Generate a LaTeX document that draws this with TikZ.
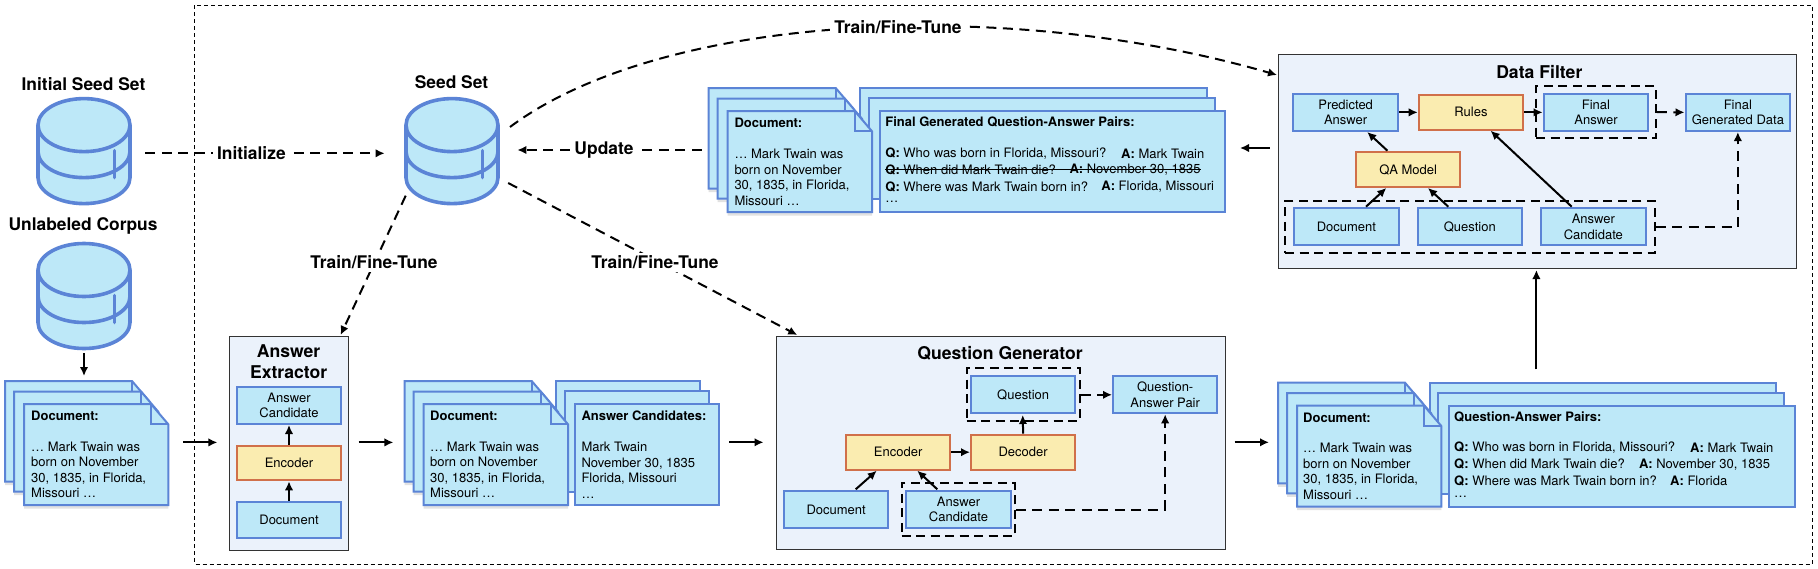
\documentclass[tikz,border=0pt]{standalone}
\usepackage{fontspec}
\setmainfont{TeX Gyre Heros}
\usetikzlibrary{arrows.meta}
\definecolor{boxblue}{HTML}{BDE8F8}
\definecolor{edgeblue}{HTML}{5B84D6}
\definecolor{boxyel}{HTML}{FAECB0}
\definecolor{edgeor}{HTML}{D0704A}
\definecolor{panelbg}{HTML}{EBF2FB}
\definecolor{shadowg}{HTML}{E2E2E2}
\newcommand{\DocPage}[6]{% left, top, right, bottom, foldx, foldy
  \fill[shadowg] (#1,#2+3)--(#5,#2+3)--(#3,#6+3)--(#3,#4+3.5)--(#1,#4+3.5)--cycle;
  \filldraw[page] (#1,#2)--(#5,#2)--(#3,#6)--(#3,#4)--(#1,#4)--cycle;
  \draw[page,fill=none] (#5,#2)--(#5,#6)--(#3,#6);
}
\newcommand{\DocStack}[2]{% left, top
  \begin{scope}[shift={(#1,#2)}]
  \DocPage{-19}{-23}{125.3}{77.7}{108}{-2.7}
  \DocPage{-10}{-12.5}{134.3}{87.7}{117}{7.8}
  \DocPage{0}{0}{144.3}{101}{127}{20.3}
  \end{scope}
}
\newcommand{\DBcyl}[3]{% name, cx, top y
  \begin{scope}[shift={(#2,#3)}]
  \filldraw[dbline] (-46,26.5)--(-46,79) arc[start angle=180,end angle=0,x radius=46,y radius=26]--(46,26.5) arc[start angle=0,end angle=-180,x radius=46,y radius=26.5]--cycle;
  \draw[dbline,fill=none] (-46,26.5) arc[start angle=180,end angle=0,x radius=46,y radius=26.5];
  \draw[dbline,fill=none] (-46,53) arc[start angle=180,end angle=0,x radius=46,y radius=26];
  \draw[dbline,fill=none,line cap=round] (30.5,52)--(30.5,79);
  \coordinate (#1) at (0,50);
  \end{scope}
}
\tikzset{
  x=1pt,y=-1pt,
  page/.style={draw=edgeblue,fill=boxblue,line width=2pt,line join=miter},
  dbline/.style={draw=edgeblue,fill=boxblue,line width=3.6pt},
  bbox/.style={draw=edgeblue,fill=boxblue,line width=2pt,inner sep=0pt,align=center,font=\fontsize{13}{15.5}\selectfont},
  ybox/.style={draw=edgeor,fill=boxyel,line width=2pt,inner sep=0pt,align=center,font=\fontsize{13}{15.5}\selectfont},
  panel/.style={draw=black!80,fill=panelbg,line width=1.1pt},
  grp/.style={draw=black,line width=1.9pt,dash pattern=on 9pt off 5.5pt},
  arr/.style={draw=black,line width=2pt,-{Latex[length=9pt,width=8.5pt]}},
  darr/.style={draw=black,line width=2pt,dash pattern=on 10pt off 6.5pt,-{Latex[length=9pt,width=8.5pt]}},
  lbl/.style={font=\fontsize{17.4}{20}\selectfont\bfseries,inner sep=0pt},
  wlbl/.style={lbl,fill=white,inner xsep=4pt,inner ysep=3pt},
  ttl/.style={font=\fontsize{17.6}{21.5}\selectfont\bfseries,inner sep=0pt,align=center},
  doctxt/.style={anchor=west,inner sep=0pt,align=left,font=\fontsize{13}{15.5}\selectfont},
  qatxt/.style={anchor=west,inner sep=0pt,font=\fontsize{13}{15}\selectfont},
  qah/.style={anchor=west,inner sep=0pt,font=\fontsize{13}{15}\selectfont\bfseries},
}
\newcommand{\bx}[6]{\node[#1,minimum width=#4-#3,minimum height=#6-#5,anchor=north west] (#2) at (#3,#5) {};}
\begin{document}
\begin{tikzpicture}
\useasboundingbox (0,0) rectangle (1818,568);
\fill[white] (0,0) rectangle (1818,568);
% outer dashed
\draw[black,line width=1pt,dash pattern=on 4pt off 3pt] (194.5,5) rectangle (1812,564);
% databases
\DBcyl{dba}{84}{98.6}
\DBcyl{dbb}{84}{243.5}
\DBcyl{dbs}{452}{98.6}
\node[lbl] (tinit) at (83.5,84) {Initial Seed Set};
\node[lbl] (tunl) at (83,226) {Unlabeled Corpus};
\node[lbl] (tseed) at (451.5,82) {Seed Set};
% stacks
\DocStack{24}{404}
\node[qah] (s1h) at (31,415.7) {Document:};
\node[doctxt] (s1t) at (31,470) {… Mark Twain was\\born on November\\30, 1835, in Florida,\\Missouri …};
\coordinate (s1e) at (183,442.4);
\coordinate (s1i) at (84,376);
\coordinate (dbbb) at (84,353);
\draw[arr] (dbbb)--(s1i);
% answer extractor
\bx{panel}{ae}{229}{348.3}{336}{549.6}
\node[ttl] (aet) at (288.6,361.5) {Answer\\Extractor};
\bx{bbox}{aec}{236}{340}{386}{423}
\node[bbox,draw=none,fill=none] at (aec) {Answer\\Candidate};
\bx{ybox}{aee}{236}{340}{444.6}{479.3}
\node[ybox,draw=none,fill=none] at (aee) {Encoder};
\bx{bbox}{aed}{236}{340}{500.7}{537.3}
\node[bbox,draw=none,fill=none] at (aed) {Document};
\draw[arr] (aee.north)--(aec.south);
\draw[arr] (aed.north)--(aee.south);
\coordinate (aein) at (217.4,442.4);
\draw[arr] (s1e)--(aein);
\coordinate (aeout) at (358.6,442.4);
\coordinate (s2in) at (393.4,442.4);
\draw[arr] (aeout)--(s2in);
% stack 2
\filldraw[page] (556,381)--(700,381)--(700,482)--(556,482)--cycle;
\filldraw[page] (565,390.7)--(709,390.7)--(709,492)--(565,492)--cycle;
\filldraw[page] (575,404)--(719,404)--(719,505)--(575,505)--cycle;
\DocStack{423.7}{404}
\node[qah] (s2h) at (430,415.7) {Document:};
\node[doctxt] (s2t) at (430,470) {… Mark Twain was\\born on November\\30, 1835, in Florida,\\Missouri …};
\node[qah] (s2ah) at (581.3,415.7) {Answer Candidates:};
\node[doctxt] (s2at) at (581.3,470.5) {Mark Twain\\November 30, 1835\\Florida, Missouri\\…};
% question generator
\coordinate (qgin) at (763.5,442.3);
\coordinate (s2out) at (729,442.3);
\draw[arr] (s2out)--(qgin);
\bx{panel}{qg}{775.7}{1225}{336}{549.3}
\node[ttl] (qgt) at (1000,353) {Question Generator};
\bx{bbox}{qgq}{970}{1074.3}{375.3}{412.3}
\node[bbox,draw=none,fill=none] at (qgq) {Question};
\bx{bbox}{qgp}{1112}{1216.3}{375.3}{412.3}
\node[bbox,draw=none,fill=none] at (qgp) {Question-\\Answer Pair};
\bx{ybox}{qge}{845}{949.3}{433.7}{468.7}
\node[ybox,draw=none,fill=none] at (qge) {Encoder};
\bx{ybox}{qgd}{970}{1074.3}{433.7}{468.7}
\node[ybox,draw=none,fill=none] at (qgd) {Decoder};
\bx{bbox}{qgdoc}{783}{887.3}{490}{527}
\node[bbox,draw=none,fill=none] at (qgdoc) {Document};
\bx{bbox}{qgac}{905.3}{1009.7}{490}{527}
\node[bbox,draw=none,fill=none] at (qgac) {Answer\\Candidate};
\node[grp,minimum width=113pt,minimum height=52.7pt,anchor=north west,inner sep=0pt] (gq) at (965.7,367.3) {};
\node[grp,minimum width=113.3pt,minimum height=52.7pt,anchor=north west,inner sep=0pt] (gac) at (900.7,482.3) {};
\coordinate (qa0) at (855.7,489.3);
\coordinate (qa1) at (876.7,470.7);
\coordinate (qb0) at (937.3,489.3);
\coordinate (qb1) at (917.3,470.7);
\coordinate (qd1) at (1022.7,415);
\draw[arr] (qa0)--(qa1);
\draw[arr] (qb0)--(qb1);
\draw[arr] (qge.east)--(qgd.west);
\draw[arr] (qgd.north)--(qd1);
\draw[darr] (gq.east|-qgq.east)--(qgp.west);
\draw[darr] (gac.east)-|(qgp.south);
% stack 3
\coordinate (qgout) at (1234.5,442.3);
\coordinate (s3in) at (1269,442.3);
\draw[arr] (qgout)--(s3in);
\filldraw[page] (1430,383)--(1776,383)--(1776,483.5)--(1430,483.5)--cycle;
\filldraw[page] (1438,393.3)--(1784.4,393.3)--(1784.4,493.5)--(1438,493.5)--cycle;
\filldraw[page] (1448.8,405.7)--(1794.8,405.7)--(1794.8,506.7)--(1448.8,506.7)--cycle;
\DocStack{1297}{405.7}
\node[qah] (s3h) at (1303,417.4) {Document:};
\node[doctxt] (s3t) at (1303,471.5) {… Mark Twain was\\born on November\\30, 1835, in Florida,\\Missouri …};
\node[qah] (s3qh) at (1454,416.7) {Question-Answer Pairs:};
\node[qatxt] (s3q1) at (1454,447.7) {\textbf{Q:} Who was born in Florida, Missouri?};
\node[qatxt] (s3a1) at (1690,447.7) {\textbf{A:} Mark Twain};
\node[qatxt] (s3q2) at (1454,464.3) {\textbf{Q:} When did Mark Twain die?};
\node[qatxt] (s3a2) at (1638.8,464.3) {\textbf{A:} November 30, 1835};
\node[qatxt] (s3q3) at (1454,480.7) {\textbf{Q:} Where was Mark Twain born in?};
\node[qatxt] (s3a3) at (1670,480.7) {\textbf{A:} Florida};
\node[qatxt] (s3q4) at (1454,497) {…};
% data filter
\coordinate (s3top) at (1536.4,369.3);
\coordinate (dfbot) at (1536.4,270);
\draw[arr] (s3top)--(dfbot);
\bx{panel}{df}{1278}{1795.8}{54}{267.7}
\node[ttl] (dft) at (1539.3,72.3) {Data Filter};
\bx{bbox}{dfp}{1292.3}{1397}{92.7}{130}
\node[bbox,draw=none,fill=none] at (dfp) {Predicted\\Answer};
\bx{ybox}{dfr}{1417.7}{1522.3}{94}{128.7}
\node[ybox,draw=none,fill=none] at (dfr) {Rules};
\bx{bbox}{dff}{1542.6}{1647.3}{92.7}{130}
\node[bbox,draw=none,fill=none] at (dff) {Final\\Answer};
\bx{bbox}{dfg}{1684.5}{1789.2}{92.7}{130}
\node[bbox,draw=none,fill=none] at (dfg) {Final\\Generated Data};
\bx{ybox}{dfq}{1355}{1459.3}{151}{186}
\node[ybox,draw=none,fill=none] at (dfq) {QA Model};
\bx{bbox}{dfd}{1293}{1397.8}{207}{244.3}
\node[bbox,draw=none,fill=none] at (dfd) {Document};
\bx{bbox}{dfq2}{1416.6}{1520.9}{207}{244.3}
\node[bbox,draw=none,fill=none] at (dfq2) {Question};
\bx{bbox}{dfa}{1540}{1644.7}{207}{244.3}
\node[bbox,draw=none,fill=none] at (dfa) {Answer\\Candidate};
\node[grp,minimum width=119.8pt,minimum height=52.3pt,anchor=north west,inner sep=0pt] (gf) at (1535.2,85) {};
\node[grp,minimum width=369.4pt,minimum height=52.3pt,anchor=north west,inner sep=0pt] (gb) at (1284.2,200) {};
\coordinate (d1) at (1387.4,150.7);
\coordinate (d2) at (1367.2,132);
\coordinate (d3) at (1366,206.7);
\coordinate (d4) at (1386.3,188);
\coordinate (d5) at (1448.3,206.7);
\coordinate (d6) at (1428,188);
\coordinate (d7) at (1571.7,206.7);
\coordinate (d8) at (1490.6,130.7);
\draw[arr] (dfp.east)--(dfr.west);
\draw[arr] (dfr.east)--(dff.west);
\draw[darr] (gf.east)--(dfg.west);
\draw[arr] (d1)--(d2);
\draw[arr] (d3)--(d4);
\draw[arr] (d5)--(d6);
\draw[arr] (d7)--(d8);
\draw[darr] (gb.east)-|(dfg.south);
% stack 4
\coordinate (s4in) at (1240,148);
\coordinate (dfl) at (1269.5,148);
\draw[arr] (dfl)--(s4in);
\filldraw[page] (860.4,88)--(1206.6,88)--(1206.6,189)--(860.4,189)--cycle;
\filldraw[page] (868.7,98)--(1215.3,98)--(1215.3,199)--(868.7,199)--cycle;
\filldraw[page] (879.9,111)--(1225.2,111)--(1225.2,211.7)--(879.9,211.7)--cycle;
\DocStack{727.7}{111}
\node[qah] (s4h) at (734.3,123.3) {Document:};
\node[doctxt] (s4t) at (734.3,177.3) {… Mark Twain was\\born on November\\30, 1835, in Florida,\\Missouri …};
\node[qah] (s4qh) at (885.2,121.7) {Final Generated Question-Answer Pairs:};
\node[qatxt] (s4q1) at (885.2,153.7) {\textbf{Q:} Who was born in Florida, Missouri?};
\node[qatxt] (s4a1) at (1121,153.7) {\textbf{A:} Mark Twain};
\node[qatxt] (s4q2) at (885.2,169.7) {\textbf{Q:} When did Mark Twain die?};
\node[qatxt] (s4a2) at (1069.3,169.7) {\textbf{A:} November 30, 1835};
\node[qatxt] (s4q3) at (885.2,186.7) {\textbf{Q:} Where was Mark Twain born in?};
\node[qatxt] (s4a3) at (1101.2,186.7) {\textbf{A:} Florida, Missouri};
\node[qatxt] (s4q4) at (885.2,202) {…};
\draw[black,line width=1pt] (s4q2.west)--(s4a2.east);
% connectors with labels
\coordinate (i0) at (145.4,153.3);
\coordinate (i1) at (384.6,153.3);
\draw[darr] (i0)--(i1) node[wlbl,pos=0.443] (linit) {Initialize};
\coordinate (u0) at (701.6,150);
\coordinate (u1) at (517.4,150);
\draw[darr] (u0)--(u1) node[wlbl,pos=0.53] (lupd) {Update};
\coordinate (a0) at (405.7,195.7);
\coordinate (a1) at (340.6,335);
\draw[darr] (a0)--(a1);
\node[wlbl] (la) at (374,262.3) {Train/Fine-Tune};
\coordinate (b0) at (508.2,183);
\coordinate (b1) at (797.3,335);
\draw[darr] (b0)--(b1);
\node[wlbl] (lb) at (655,262.3) {Train/Fine-Tune};
\coordinate (c0) at (510,127);
\coordinate (c1) at (1277,75);
\draw[darr] (c0) .. controls (660,15) and (1000,-5) .. (c1);
\node[wlbl] (lc) at (898,27) {Train/Fine-Tune};
\end{tikzpicture}
\end{document}
